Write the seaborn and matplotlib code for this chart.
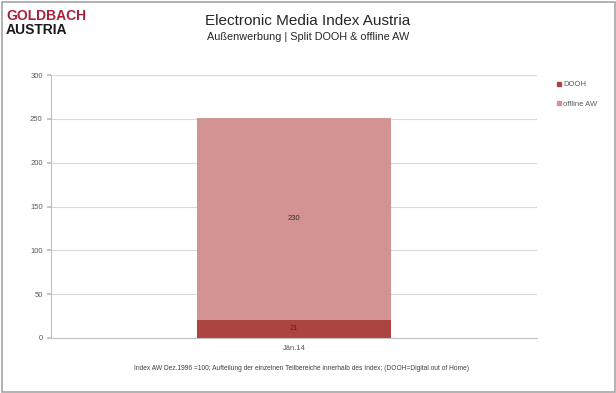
import pandas as pd
import matplotlib.pyplot as plt
import seaborn as sns
from matplotlib.lines import Line2D
from matplotlib.patches import Rectangle

# data
categories = ["Jän.14"]
dooh = [21]
offline_aw = [230]
series_names = ["DOOH", "offline AW"]
colors = {"DOOH": "#AC4542", "offline AW": "#D39392"}

df = pd.DataFrame({"month": categories, "DOOH": dooh, "offline AW": offline_aw})
df["total"] = df["DOOH"] + df["offline AW"]

sns.set_theme(style="white")
plt.rcParams['font.family'] = ['Liberation Sans', 'DejaVu Sans']

fig = plt.figure(figsize=(6.16, 3.93), dpi=100)
ax = fig.add_axes([51 / 616, 55 / 393, 486 / 616, 263 / 393])

# stacked bar: total first, then DOOH drawn over its lower part
sns.barplot(data=df, x="month", y="total", color=colors["offline AW"], width=0.4,
            saturation=1, linewidth=0, ax=ax)
sns.barplot(data=df, x="month", y="DOOH", color=colors["DOOH"], width=0.4,
            saturation=1, linewidth=0, ax=ax)

ax.set_xlim(-0.5, 0.5)
ax.set_ylim(0, 300)
ax.set_yticks(range(0, 301, 50))
ax.set_xlabel("")
ax.set_ylabel("")
ax.yaxis.grid(True, color="#D9D9D9", linewidth=0.8)
ax.set_axisbelow(True)
for s in ["top", "right"]:
    ax.spines[s].set_visible(False)
for s in ["left", "bottom"]:
    ax.spines[s].set_color("#BFBFBF")
    ax.spines[s].set_linewidth(0.8)
ax.tick_params(axis="y", left=True, length=3, color="#BFBFBF", labelsize=5.5,
               labelcolor="#595959", pad=3)
ax.tick_params(axis="x", bottom=False, length=0, labelsize=5.5, labelcolor="#595959", pad=5)

# value labels
for i, row in df.iterrows():
    ax.text(i, row["DOOH"] / 2, f"{row['DOOH']}", ha="center", va="center",
            fontsize=5.5, color="#333333")
    ax.text(i, row["DOOH"] + row["offline AW"] / 2, f"{row['offline AW']}",
            ha="center", va="center", fontsize=5.5, color="#333333")

# legend
handles = [Line2D([], [], marker="s", linestyle="", markersize=3,
                  color=colors[n]) for n in series_names]
fig.legend(handles, series_names, loc="upper left", bbox_to_anchor=(556 / 616, 1 - 81 / 393),
           frameon=False, fontsize=5.5, labelcolor="#595959", handletextpad=0.1,
           labelspacing=1.6, handlelength=0.8, borderaxespad=0, borderpad=0)

# titles
fig.text(308 / 616, 1 - 21 / 393, "Electronic Media Index Austria", ha="center",
         va="center", fontsize=11, color="#262626")
fig.text(308 / 616, 1 - 37 / 393, "Außenwerbung | Split DOOH & offline AW", ha="center",
         va="center", fontsize=7.8, color="#262626")
fig.text(302 / 616, 1 - 368 / 393,
         "Index AW Dez.1996 =100; Aufteilung der einzelnen Teilbereiche innerhalb des Index; (DOOH=Digital out of Home)",
         ha="center", va="center", fontsize=4.8, color="#404040")

# logo
fig.text(6 / 616, 1 - 16 / 393, "GOLDBACH", ha="left", va="center", fontsize=10,
         fontweight="bold", color="#A6223A")
fig.text(6 / 616, 1 - 30 / 393, "AUSTRIA", ha="left", va="center", fontsize=10,
         fontweight="bold", color="#1A1A1A")

# outer frame
fig.patches.append(Rectangle((1.5 / 616, 1.5 / 393), 613 / 616, 390 / 393,
                             transform=fig.transFigure, fill=False,
                             edgecolor="#A6A6A6", linewidth=1.2))

plt.savefig("out.png", dpi=100)
plt.close()
